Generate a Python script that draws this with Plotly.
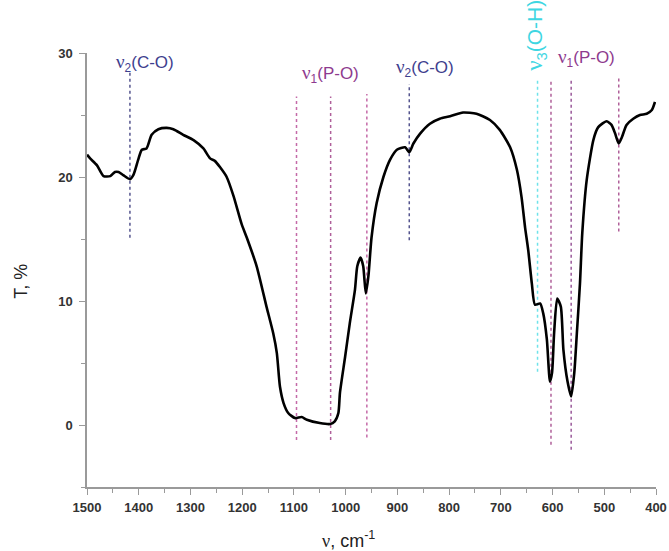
import plotly.graph_objects as go

# IR spectrum, transmittance vs wavenumber
wavenumber = [1500, 1494, 1481, 1468, 1455, 1446, 1439, 1430, 1417, 1410, 1401, 1394, 1385,
              1375, 1362, 1346, 1333, 1314, 1294, 1275, 1262, 1253, 1243, 1230, 1217, 1201,
              1191, 1172, 1153, 1140, 1133, 1127, 1120, 1111, 1098, 1085, 1075, 1050, 1030,
              1021, 1014, 1011, 1001, 992, 982, 977.5, 971, 966, 961, 956, 950, 940, 927, 914,
              901, 885, 877, 869, 856, 837, 818, 798, 773, 747, 721, 702, 682, 669, 660, 653,
              647, 640, 634, 624, 618, 611, 605, 601, 597, 591, 584, 579, 571, 564, 558, 553,
              547, 542.5, 534, 521, 512, 495.5, 486, 479, 472, 466, 457, 444, 431, 418, 408, 402]
transmittance = [21.8, 21.5, 20.96, 20.07, 20.07, 20.4, 20.4, 20.15, 19.83, 20.2, 21.4, 22.2, 22.3,
                 23.4, 23.85, 23.96, 23.85, 23.4, 22.97, 22.3, 21.5, 21.3, 20.8, 20.0, 18.5, 16.2,
                 15.1, 12.8, 9.55, 7.4, 5.8, 3.1, 1.77, 0.97, 0.56, 0.64, 0.43, 0.16, 0.08,
                 0.3, 0.97, 2.6, 5.5, 8.2, 10.9, 12.8, 13.5, 12.8, 10.6, 12.0, 15.1, 17.9, 20.0, 21.4,
                 22.2, 22.4, 22.0, 22.7, 23.5, 24.3, 24.7, 24.9, 25.2, 25.1, 24.6, 23.8, 22.4, 20.6, 18.4, 15.9,
                 14.1, 11.4, 9.7, 9.8, 9.0, 6.9, 3.5, 4.2, 7.4, 10.2, 9.55, 6.06, 3.5, 2.3, 4.2, 7.4,
                 11.4, 15.5, 19.75, 23.0, 24.0, 24.5, 24.2, 23.5, 22.7, 23.2, 24.2, 24.7, 25.0, 25.1, 25.4, 26.05]

# band markers: position, bottom, top, colour
band_pos = [1417, 1095, 1029, 959, 877, 629, 603, 564, 472]
band_low = [15.1, -1.2, -1.2, -1.0, 14.9, 4.3, -1.6, -2.0, 15.6]
band_high = [28.4, 26.5, 26.5, 26.7, 27.5, 28.0, 27.8, 27.8, 28.0]
band_color = ["#55558f", "#c46aa8", "#b0609a", "#c46aa8", "#55558f",
              "#6fe3ea", "#b0609a", "#9a5a9a", "#b0609a"]

# band labels: x (wavenumber), y (T), html text, colour, angle, size
label_x = [1387, 1030, 846, 633, 534]
label_y = [28.05, 27.15, 27.64, 28.4, 28.44]
sv = "<span style='font-family:Liberation Serif;font-size:19px'>ν</span>"
sv3 = "<span style='font-family:Liberation Serif;font-size:23px'>ν</span>"
label_text = [sv + "<sub>2</sub>(C-O)", sv + "<sub>1</sub>(P-O)", sv + "<sub>2</sub>(C-O)",
              sv3 + "<sub>3</sub>(O-H)", sv + "<sub>1</sub>(P-O)"]
label_color = ["#3e3e8e", "#8e3a8e", "#3e3e8e", "#3ed6e2", "#8e3a8e"]
label_angle = [0, 0, 0, -90, 0]
label_size = [17, 17, 17, 21, 17]

fig = go.Figure()

for x0, lo, hi, c in zip(band_pos, band_low, band_high, band_color):
    fig.add_trace(go.Scatter(x=[x0, x0], y=[lo, hi], mode="lines",
                             line=dict(color=c, width=1.5, dash="dot"),
                             showlegend=False, hoverinfo="skip"))

fig.add_trace(go.Scatter(x=wavenumber, y=transmittance, mode="lines",
                         line=dict(color="black", width=2.6, shape="spline", smoothing=0.6),
                         showlegend=False))

for x0, y0, t, c, a, s in zip(label_x, label_y, label_text, label_color, label_angle, label_size):
    fig.add_annotation(x=x0, y=y0, text=t, showarrow=False, textangle=a,
                       font=dict(family="Arial, Liberation Sans", size=s, color=c),
                       xanchor="center", yanchor="bottom")

fig.update_xaxes(range=[1500, 400], showline=True, linecolor="#9a9a9a", linewidth=1.5,
                 ticks="outside", tickcolor="#9a9a9a", ticklen=6, tickwidth=1.2,
                 tickvals=[1500, 1400, 1300, 1200, 1100, 1000, 900, 800, 700, 600, 500, 400],
                 minor=dict(ticks="outside", ticklen=4, tickcolor="#9a9a9a", dtick=50, tick0=0),
                 showgrid=False, zeroline=False, automargin=False, ticklabelstandoff=2,
                 tickfont=dict(family="Arial, Liberation Sans", size=13, color="#333", weight="bold"))
fig.update_yaxes(range=[-5, 30], showline=True, linecolor="#9a9a9a", linewidth=1.5,
                 ticks="outside", tickcolor="#9a9a9a", ticklen=6, tickwidth=1.2,
                 tickvals=[0, 10, 20, 30],
                 minor=dict(ticks="outside", ticklen=4, tickcolor="#9a9a9a", dtick=5, tick0=0),
                 showgrid=False, zeroline=False, automargin=False, ticklabelstandoff=4,
                 tickfont=dict(family="Arial, Liberation Sans", size=13, color="#333", weight="bold"))

fig.add_annotation(xref="paper", yref="paper", x=-0.115, y=0.474, text="T, %", showarrow=False,
                   textangle=-90, xanchor="center", yanchor="middle",
                   font=dict(family="Arial, Liberation Sans", size=18, color="#222"))
fig.add_annotation(xref="paper", yref="paper", x=0.46, y=-0.09, xanchor="center", yanchor="top",
                   text="<span style='font-family:Liberation Serif'>ν</span>, cm<sup>-1</sup>",
                   showarrow=False, font=dict(family="Arial, Liberation Sans", size=18, color="#222"))

fig.update_layout(width=669, height=551, plot_bgcolor="white", paper_bgcolor="white",
                  margin=dict(l=87, r=13, t=53, b=64))

# drop the default page margin so the figure fills the window
fig.write_html("out.html", config={"displayModeBar": False},
               post_script="document.body.style.margin='0';")
